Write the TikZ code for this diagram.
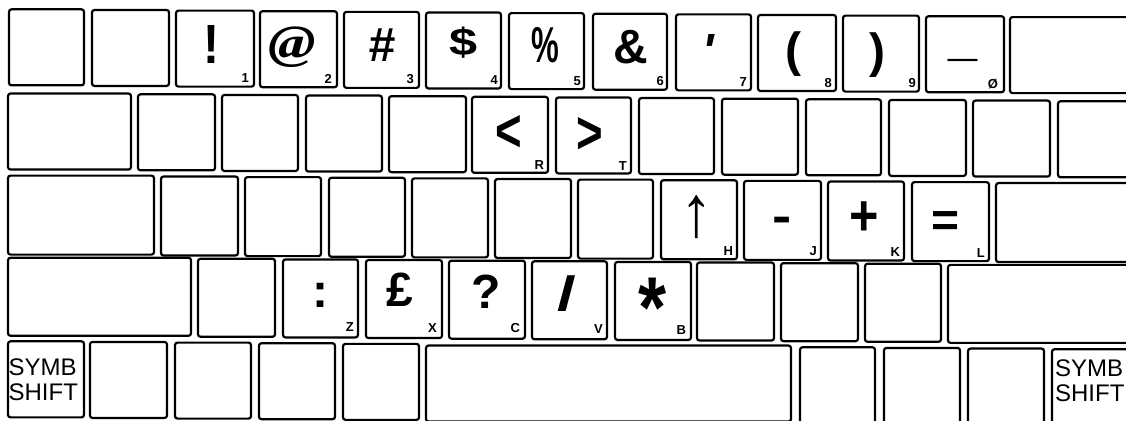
\documentclass[tikz,border=0pt]{standalone}
\usepackage{fontspec}
\setmainfont{Liberation Sans}
\newfontfamily\atfont{Liberation Serif}
\usepackage{graphicx}
\usetikzlibrary{calc}
\tikzset{
  keybox/.style={draw, line width=2.2pt, rounded corners=2.5pt, inner sep=0pt},
  sym/.style={font=\fontsize{48}{48}\selectfont\bfseries, inner sep=0pt},
  sub/.style={font=\fontsize{13}{13}\selectfont\bfseries, inner sep=0pt, anchor=base east},
  shiftlbl/.style={font=\fontsize{24}{25}\selectfont, inner sep=0pt, align=left, anchor=north west},
}
\newcommand\kk[5]{%
  \pgfmathsetmacro\kcx{(#2+#3)/2}%
  \pgfmathsetmacro\kcy{(#4+#5)/2+0.0075*\kcx}%
  \pgfmathsetmacro\kwd{#3-#2-2}%
  \pgfmathsetmacro\kht{#5-#4-2}%
  \node[keybox, minimum width=\kwd pt, minimum height=\kht pt] (#1) at (\kcx,\kcy) {};%
}
\begin{document}
\begin{tikzpicture}[x=1pt,y=-1pt]
\useasboundingbox (0,0) rectangle (1126,420);
\clip (0,0) rectangle (1126,420);
% ---------- row 1
\kk{k11}{8}{85}{8}{86}
\kk{k12}{91}{170}{8}{86}
\kk{k13}{175}{255}{8}{86}
\kk{k14}{259}{338}{8}{86}
\kk{k15}{343}{420}{8}{86}
\kk{k16}{425}{502}{8}{86}
\kk{k17}{508}{585}{8}{86}
\kk{k18}{592}{668}{8}{86}
\kk{k19}{675}{752}{8}{86}
\kk{k1a}{757}{837}{8}{86}
\kk{k1b}{842}{920}{8}{86}
\kk{k1c}{925}{1005}{8}{86}
\kk{k1d}{1009}{1150}{8}{86}
% ---------- row 2
\kk{k21}{7}{132}{92}{170}
\kk{k22}{137}{216}{92}{170}
\kk{k23}{221}{299}{92}{170}
\kk{k24}{305}{383}{92}{170}
\kk{k25}{388}{467}{92}{170}
\kk{k26}{471}{549}{92}{170}
\kk{k27}{555}{632}{92}{170}
\kk{k28}{638}{715}{92}{170}
\kk{k29}{721}{799}{92}{170}
\kk{k2a}{805}{882}{92}{170}
\kk{k2b}{888}{967}{92}{170}
\kk{k2c}{972}{1051}{92}{170}
\kk{k2d}{1057}{1150}{92}{170}
% ---------- row 3
\kk{k31}{7}{155}{174}{255}
\kk{k32}{160}{239}{174}{255}
\kk{k33}{244}{322}{174}{255}
\kk{k34}{328}{406}{174}{255}
\kk{k35}{411}{489}{174}{255}
\kk{k36}{494}{572}{174}{255}
\kk{k37}{577}{654}{174}{255}
\kk{k38}{660}{738}{174}{255}
\kk{k39}{743}{822}{174}{255}
\kk{k3a}{827}{905}{174}{255}
\kk{k3b}{911}{990}{174}{255}
\kk{k3c}{995}{1150}{174}{255}
% ---------- row 4
\kk{k41}{7}{192}{256}{336}
\kk{k42}{197}{276}{256}{336}
\kk{k43}{282}{359}{256}{336}
\kk{k44}{365}{443}{256}{336}
\kk{k45}{448}{526}{256}{336}
\kk{k46}{531}{608}{256}{336}
\kk{k47}{614}{692}{256}{336}
\kk{k48}{696}{775}{256}{336}
\kk{k49}{780}{859}{256}{336}
\kk{k4a}{864}{942}{256}{336}
\kk{k4b}{947}{1150}{256}{336}
% ---------- row 5
\kk{k51}{7}{85}{340}{418}
\kk{k52}{89}{168}{340}{418}
\kk{k53}{174}{252}{340}{418}
\kk{k54}{258}{336}{340}{418}
\kk{k55}{342}{420}{340}{418}
\kk{k56}{425}{792}{340}{418}
\kk{k57}{799}{876}{340}{418}
\kk{k58}{883}{961}{340}{418}
\kk{k59}{967}{1045}{340}{418}
\kk{k5a}{1051}{1150}{340}{418}
% ---------- symbols row 1
\node[sym] (s13) at ($(k13.center)+(-4,-4.6)$) {\scalebox{1}[1.15]{!}};
\node[sym, font=\fontsize{48}{48}\selectfont\atfont\bfseries\itshape] (s14) at ($(k14.center)+(-6,-2)$) {\scalebox{1.19}[0.99]{@}};
\node[sym, font=\fontsize{48}{48}\selectfont\bfseries\itshape] (s15) at ($(k15.center)+(0,-5)$) {\#};
\node[sym] (s16) at ($(k16.center)+(0,-7.5)$) {\scalebox{1.05}[0.8]{\$}};
\node[sym] (s17) at ($(k17.center)+(-1.5,-6)$) {\scalebox{0.65}[1.05]{\%}};
\node[sym] (s18) at ($(k18.center)+(1,-5)$) {\&};
\node[sym, font=\fontsize{48}{48}\selectfont\bfseries\itshape] (s19) at ($(k19.center)+(-5.5,-1.5)$) {\textquotesingle};
\node[sym] (s1a) at ($(k1a.center)+(-4,1.5)$) {(};
\node[sym] (s1b) at ($(k1b.center)+(-4,1)$) {)};
\node[sym, font=\fontsize{58}{58}\selectfont\bfseries, anchor=base] (s1c) at ($(k1c.center)+(-2,0.4)$) {\scalebox{0.9}[1]{\_}};
% ---------- symbols row 2
\node[sym] (s26) at ($(k26.center)+(-1,-1)$) {\scalebox{0.95}[1.25]{<}};
\node[sym] (s27) at ($(k27.center)+(-3.5,0.5)$) {\scalebox{0.95}[1.25]{>}};
% ---------- symbols row 3
\node[sym, font=\fontsize{52}{52}\selectfont] (s38) at ($(k38.center)+(-2.5,-2.7)$) {\scalebox{1.25}[1.4]{↑}};
\node[sym] (s39) at ($(k39.center)+(0,4.7)$) {\scalebox{1.2}[1]{-}};
\node[sym] (s3a) at ($(k3a.center)+(-2,-2)$) {\scalebox{1.05}[1.2]{+}};
\node[sym] (s3b) at ($(k3b.center)+(-4.5,2.4)$) {=};
% ---------- symbols row 4
\node[sym] (s43) at ($(k43.center)+(0,-3)$) {:};
\node[sym] (s44) at ($(k44.center)+(-4,-9)$) {£};
\node[sym] (s45) at ($(k45.center)+(-1,-7.7)$) {?};
\node[sym] (s46) at ($(k46.center)+(-2.5,-7)$) {\scalebox{1.4}[1.0]{/}};
\node[sym] (s47) at ($(k47.center)+(-1,7)$) {\scalebox{1.5}[1.8]{*}};
% ---------- small labels
\node[sub] (n13) at ($(k13.south east)+(-6,-5)$) {1};
\node[sub] (n14) at ($(k14.south east)+(-6,-5)$) {2};
\node[sub] (n15) at ($(k15.south east)+(-6,-5)$) {3};
\node[sub] (n16) at ($(k16.south east)+(-4,-5)$) {4};
\node[sub] (n17) at ($(k17.south east)+(-4,-5)$) {5};
\node[sub] (n18) at ($(k18.south east)+(-4,-5)$) {6};
\node[sub] (n19) at ($(k19.south east)+(-5,-5)$) {7};
\node[sub] (n1a) at ($(k1a.south east)+(-5,-5)$) {8};
\node[sub] (n1b) at ($(k1b.south east)+(-4,-5)$) {9};
\node[sub] (n1c) at ($(k1c.south east)+(-7,-5)$) {Ø};
\node[sub] (n26) at ($(k26.south east)+(-5,-4)$) {R};
\node[sub] (n27) at ($(k27.south east)+(-5,-4)$) {T};
\node[sub] (n38) at ($(k38.south east)+(-5,-5)$) {H};
\node[sub] (n39) at ($(k39.south east)+(-5,-5)$) {J};
\node[sub] (n3a) at ($(k3a.south east)+(-5,-5)$) {K};
\node[sub] (n3b) at ($(k3b.south east)+(-5,-5)$) {L};
\node[sub] (n43) at ($(k43.south east)+(-5,-7)$) {Z};
\node[sub] (n44) at ($(k44.south east)+(-6,-7)$) {X};
\node[sub] (n45) at ($(k45.south east)+(-6,-7)$) {C};
\node[sub] (n46) at ($(k46.south east)+(-5,-7)$) {V};
\node[sub] (n47) at ($(k47.south east)+(-6,-7)$) {B};
% ---------- symbol shift labels
\node[shiftlbl] (t51) at ($(k51.north west)+(1.5,18)$) {SYMB\\SHIFT};
\node[shiftlbl] (t5a) at ($(k5a.north west)+(4,11)$) {SYMB\\SHIFT};
\end{tikzpicture}
\end{document}
